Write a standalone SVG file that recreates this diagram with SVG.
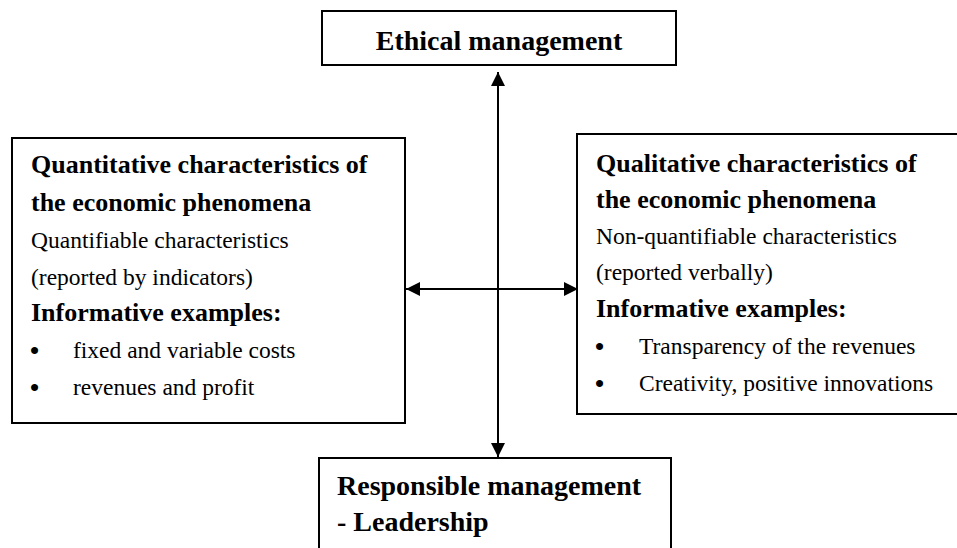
<svg xmlns="http://www.w3.org/2000/svg" width="957" height="548" viewBox="0 0 957 548">
  <style>
    .box { fill: #fff; stroke: #000; stroke-width: 2; }
    .b { font-family: "Liberation Serif", "Times New Roman", serif; font-weight: bold; fill: #000; }
    .r { font-family: "Liberation Serif", "Times New Roman", serif; font-size: 23.5px; fill: #000; }
    .h { font-size: 26px; }
    .t { font-size: 28px; }
    .dot { font-family: "Liberation Serif", "Times New Roman", serif; font-size: 26px; font-weight: bold; fill: #000; }
    .link { stroke: #000; stroke-width: 2; fill: none; }
  </style>
  <defs>
    <marker id="arrow" viewBox="0 0 10 10" refX="10" refY="5" markerWidth="7" markerHeight="7" orient="auto-start-reverse" markerUnits="strokeWidth">
      <path d="M0,0 L10,5 L0,10 Z" fill="#000"/>
    </marker>
  </defs>
  <rect width="957" height="548" fill="#fff"/>

  <!-- connectors -->
  <g id="connectors">
    <line class="link" x1="498" y1="72" x2="498" y2="457" marker-start="url(#arrow)" marker-end="url(#arrow)"/>
    <line class="link" x1="406" y1="289" x2="578" y2="289" marker-start="url(#arrow)" marker-end="url(#arrow)"/>
  </g>

  <!-- top node -->
  <g id="ethical">
    <rect class="box" x="322" y="11" width="354" height="54"/>
    <text class="b t" x="499" y="50" text-anchor="middle">Ethical management</text>
  </g>

  <!-- left node -->
  <g id="quantitative">
    <rect class="box" x="12" y="138" width="393" height="285"/>
    <text class="b h" x="31" y="173">Quantitative characteristics of</text>
    <text class="b h" x="31" y="211">the economic phenomena</text>
    <text class="r" x="31" y="248">Quantifiable characteristics</text>
    <text class="r" x="31" y="285">(reported by indicators)</text>
    <text class="b h" x="31" y="321">Informative examples:</text>
    <text class="dot" x="30" y="359">•</text>
    <text class="r" x="73" y="358">fixed and variable costs</text>
    <text class="dot" x="30" y="396">•</text>
    <text class="r" x="73" y="395">revenues and profit</text>
  </g>

  <!-- right node -->
  <g id="qualitative">
    <rect class="box" x="577" y="134" width="384" height="280"/>
    <text class="b h" x="596" y="172">Qualitative characteristics of</text>
    <text class="b h" x="596" y="208">the economic phenomena</text>
    <text class="r" x="596" y="244">Non-quantifiable characteristics</text>
    <text class="r" x="596" y="280">(reported verbally)</text>
    <text class="b h" x="596" y="317">Informative examples:</text>
    <text class="dot" x="595" y="355">•</text>
    <text class="r" x="639" y="354">Transparency of the revenues</text>
    <text class="dot" x="595" y="392">•</text>
    <text class="r" x="639" y="391">Creativity, positive innovations</text>
  </g>

  <!-- bottom node -->
  <g id="responsible">
    <rect class="box" x="319" y="458" width="352" height="100"/>
    <text class="b t" x="337" y="495">Responsible management</text>
    <text class="b t" x="337" y="531">- Leadership</text>
  </g>
</svg>
